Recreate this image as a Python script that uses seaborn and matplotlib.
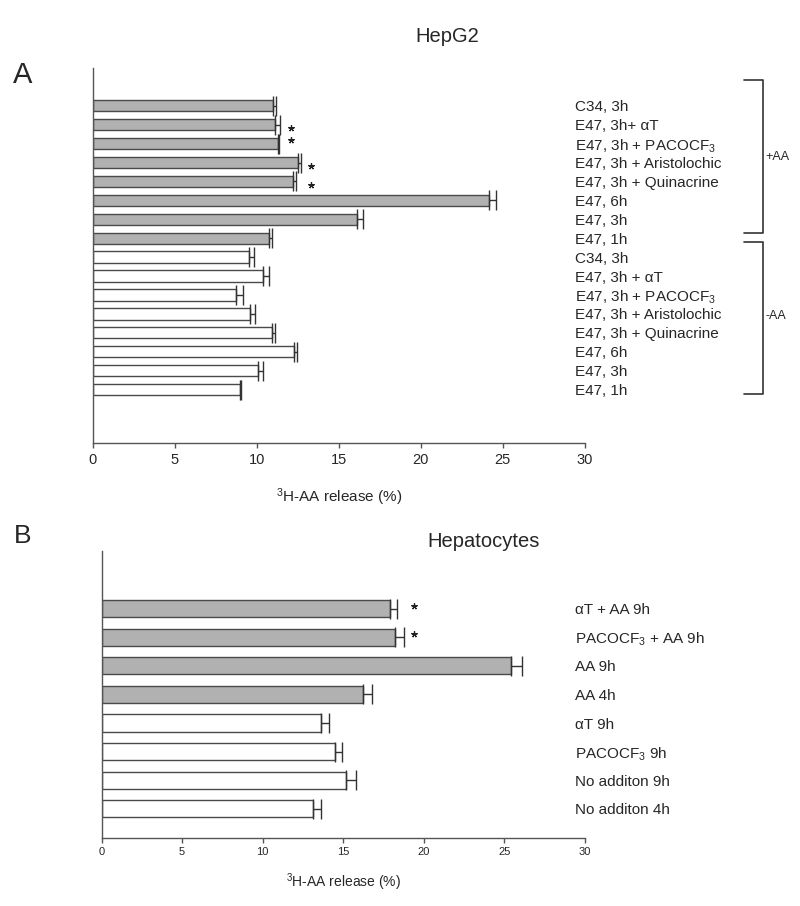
"""
HepG2 / hepatocytes 3H-AA release horizontal bar charts (panels A and B)
"""
import numpy as np
import pandas as pd
import matplotlib
matplotlib.use("Agg")
import matplotlib.pyplot as plt
import seaborn as sns

# ---- panel A data (HepG2), top to bottom ----
labels_a = ["C34, 3h", "E47, 3h+ \u03b1T", "E47, 3h + PACOCF$_3$",
            "E47, 3h + Aristolochic", "E47, 3h + Quinacrine", "E47, 6h",
            "E47, 3h", "E47, 1h",
            "C34, 3h", "E47, 3h + \u03b1T", "E47, 3h + PACOCF$_3$",
            "E47, 3h + Aristolochic", "E47, 3h + Quinacrine", "E47, 6h",
            "E47, 3h", "E47, 1h"]
groups_a = ["+AA"] * 8 + ["-AA"] * 8
means_a = [11.0, 11.1, 11.3, 12.5, 12.2, 24.15, 16.1, 10.75,
           9.5, 10.4, 8.75, 9.6, 10.9, 12.25, 10.1, 8.98]
errs_a = [0.2, 0.3, 0.08, 0.2, 0.2, 0.45, 0.4, 0.2,
          0.32, 0.32, 0.38, 0.3, 0.18, 0.18, 0.25, 0.06]
stars_a_rows = [1, 2, 3, 4]
stars_a_x = [12.1, 12.1, 13.3, 13.3]

# ---- panel B data (Hepatocytes), top to bottom ----
labels_b = ["\u03b1T + AA 9h", "PACOCF$_3$ + AA 9h", "AA 9h", "AA 4h",
            "\u03b1T 9h", "PACOCF$_3$ 9h", "No additon 9h", "No additon 4h"]
groups_b = ["+AA"] * 4 + ["-AA"] * 4
means_b = [17.9, 18.2, 25.4, 16.2, 13.6, 14.5, 15.2, 13.1]
errs_b = [0.47, 0.56, 0.68, 0.58, 0.52, 0.43, 0.62, 0.5]
stars_b_rows = [0, 1]
stars_b_x = [19.4, 19.4]

sns.set_style("ticks")
plt.rcParams["font.family"] = ["Liberation Sans", "DejaVu Sans"]
plt.rcParams["mathtext.fontset"] = "custom"
plt.rcParams["mathtext.rm"] = "Liberation Sans"
plt.rcParams["mathtext.it"] = "Liberation Sans:italic"

palette = {"+AA": "#b1b1b1", "-AA": "#ffffff"}
edge = "#4a4a4a"
asterisk = (5, 2, 0)  # asterisk-like marker for significance

fig = plt.figure(figsize=(8, 9.06), dpi=100)
ax_a = fig.add_axes([0.116, 0.511, 0.615, 0.414])
ax_b = fig.add_axes([0.127, 0.0754, 0.604, 0.3166])


def draw_panel(ax, labels, groups, means, errs, width, capsize, tick_fs):
    df = pd.DataFrame({"row": [f"{i}" for i in range(len(labels))],
                       "group": groups, "value": means})
    sns.barplot(data=df, x="value", y="row", hue="group", palette=palette,
                dodge=False, width=width, edgecolor=edge, linewidth=1,
                legend=False, ax=ax)
    pos = np.arange(len(labels))
    ax.errorbar(means, pos, xerr=[np.zeros(len(errs)), errs], fmt="none",
                ecolor="#333333", elinewidth=1, capsize=capsize, capthick=1)
    ax.set_xlim(0, 30)
    ax.set_xticks(range(0, 31, 5))
    ax.set_yticks(pos)
    ax.set_yticklabels(labels, fontsize=11)
    ax.yaxis.tick_right()
    ax.tick_params(axis="y", length=0, pad=-7.2)
    ax.tick_params(axis="x", length=3.5, width=1, color="#555555",
                   labelsize=tick_fs)
    ax.set_ylabel("")
    for s in ["top", "right"]:
        ax.spines[s].set_visible(False)
    for s in ["left", "bottom"]:
        ax.spines[s].set_color("#555555")
        ax.spines[s].set_linewidth(1)


draw_panel(ax_a, labels_a, groups_a, means_a, errs_a, 0.6, 7, 10.5)
ax_a.set_ylim(17.83, -2.0)
ax_a.set_xlabel("$^3$H-AA release (%)", fontsize=11, labelpad=14)
star_dy_a = [0.16, -0.21, 0.21, 0.21]
ax_a.plot(stars_a_x, np.array(stars_a_rows) + star_dy_a, ls="none",
          marker=asterisk, ms=4.5, mew=0.9, color="#222222")

# brackets grouping +AA / -AA
for (y0, y1), name, ty in [((-1.38, 6.72), "+AA", 2.7), ((7.2, 15.24), "-AA", 11.1)]:
    ax_a.plot([39.7, 40.85, 40.85, 39.7], [y0, y0, y1, y1], color="#333333",
              lw=1.2, clip_on=False)
    ax_a.text(41.0, ty, name, fontsize=9, ha="left", va="center")

ax_a.set_title("HepG2", fontsize=14.5, x=0.72, pad=19)
fig.text(0.028, 0.917, "A", fontsize=21, ha="center", va="center")

draw_panel(ax_b, labels_b, groups_b, means_b, errs_b, 0.6, 7.5, 8)
ax_b.set_ylim(8.01, -2.02)
ax_b.set_xlabel("$^3$H-AA release (%)", fontsize=10, labelpad=10)
ax_b.plot(stars_b_x, np.array(stars_b_rows) - 0.1, ls="none",
          marker=asterisk, ms=4.5, mew=0.9, color="#222222")
ax_b.set_title("Hepatocytes", fontsize=14.5, x=0.79, pad=3)
fig.text(0.028, 0.408, "B", fontsize=19, ha="center", va="center")

plt.savefig("out.png", dpi=100)
plt.close()
